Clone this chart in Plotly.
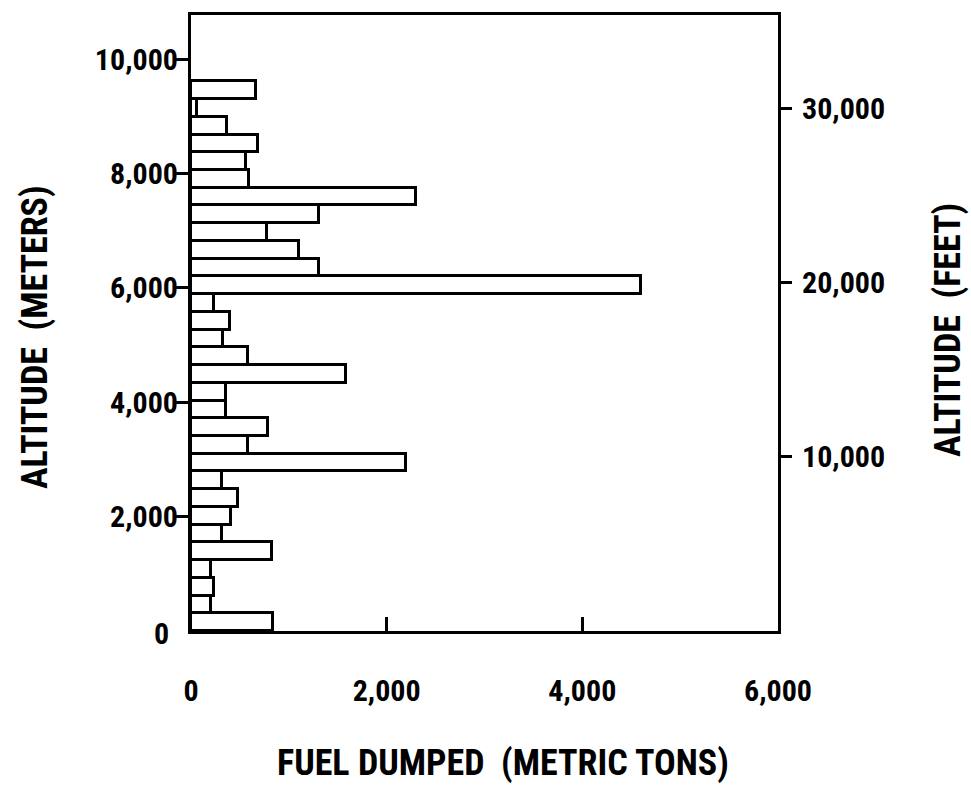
import plotly.graph_objects as go

# Altitude bins (meters, bin centers; bins ~310 m thick) and fuel dumped (metric tons)
altitude_m = [155, 465, 775, 1085, 1395, 1705, 2015, 2325, 2635, 2945,
              3255, 3565, 3875, 4185, 4495, 4805, 5115, 5425, 5735, 6045,
              6355, 6665, 6975, 7285, 7595, 7905, 8215, 8525, 8835, 9145, 9455]
fuel_tons = [840, 200, 235, 200, 830, 320, 410, 480, 320, 2200,
             585, 790, 360, 360, 1580, 585, 330, 400, 235, 4600,
             1310, 1100, 780, 1310, 2300, 590, 560, 680, 370, 60, 660]
bin_width_m = 310

x_ticks = [0, 2000, 4000, 6000]
y_ticks_m = [2000, 4000, 6000, 8000, 10000]
y_ticks_ft = [10000, 20000, 30000]

x_title = "FUEL DUMPED  (METRIC TONS)"
y_title = "ALTITUDE  (METERS)"
y2_title = "ALTITUDE  (FEET)"

y_max_m = 10770
M_TO_FT = 3.28084

FONT = "Roboto Condensed, Roboto, sans-serif"

fig = go.Figure()
fig.add_trace(go.Bar(
    x=fuel_tons, y=altitude_m, orientation="h", width=bin_width_m,
    marker=dict(color="white", line=dict(color="black", width=3)),
    showlegend=False, hoverinfo="x+y",
))
# invisible trace to anchor right axis (feet)
fig.add_trace(go.Scatter(x=[0, 0], y=[0, y_max_m * M_TO_FT], yaxis="y2",
                         mode="markers", marker=dict(opacity=0),
                         showlegend=False, hoverinfo="skip"))

axis_font = dict(family=FONT, size=30, color="black", weight="bold")
title_font = dict(family=FONT, size=36, color="black", weight="bold")

fig.update_layout(
    width=971, height=789,
    margin=dict(l=191, r=193, t=13, b=158),
    paper_bgcolor="white", plot_bgcolor="white",
    bargap=0,
    xaxis=dict(
        range=[0, 6000], tickvals=x_ticks, tickformat=",d",
        ticks="inside", ticklen=14, tickwidth=3, tickcolor="black",
        showline=True, linewidth=3, linecolor="black", mirror=True,
        showgrid=False, zeroline=False,
        tickfont=axis_font, ticklabelstandoff=31,
    ),
    yaxis=dict(
        range=[0, y_max_m], tickvals=y_ticks_m, tickformat=",d",
        ticks="outside", ticklen=13, tickwidth=3, tickcolor="black",
        showline=True, linewidth=3, linecolor="black", mirror=True,
        showgrid=False, zeroline=False,
        tickfont=axis_font, ticklabelstandoff=-9,
    ),
    yaxis2=dict(
        range=[0, y_max_m * M_TO_FT], overlaying="y", side="right",
        tickvals=y_ticks_ft, tickformat=",d",
        ticks="outside", ticklen=13, tickwidth=3, tickcolor="black",
        showline=False, showgrid=False, zeroline=False,
        tickfont=axis_font, ticklabelstandoff=4,
    ),
)

# axis titles placed as in the original
fig.add_annotation(x=0, y=0, xref="paper", yref="paper", text=x_title,
                   showarrow=False, xanchor="center", yanchor="middle",
                   xshift=312, yshift=-132, font=title_font)
fig.add_annotation(x=0, y=0, xref="paper", yref="paper", text=y_title,
                   showarrow=False, xanchor="center", yanchor="middle",
                   textangle=-90, xshift=-156, yshift=294, font=title_font)
fig.add_annotation(x=0, y=0, xref="paper", yref="paper", text=y2_title,
                   showarrow=False, xanchor="center", yanchor="middle",
                   textangle=-90, xshift=757, yshift=301, font=title_font)

# "0" label on the left axis (no tick mark there in the original)
fig.add_annotation(x=0, y=0, xref="paper", yref="y", text="0",
                   showarrow=False, xanchor="right", yanchor="middle",
                   xshift=-20, yshift=-2, font=axis_font)

fig.write_html("out.html")
